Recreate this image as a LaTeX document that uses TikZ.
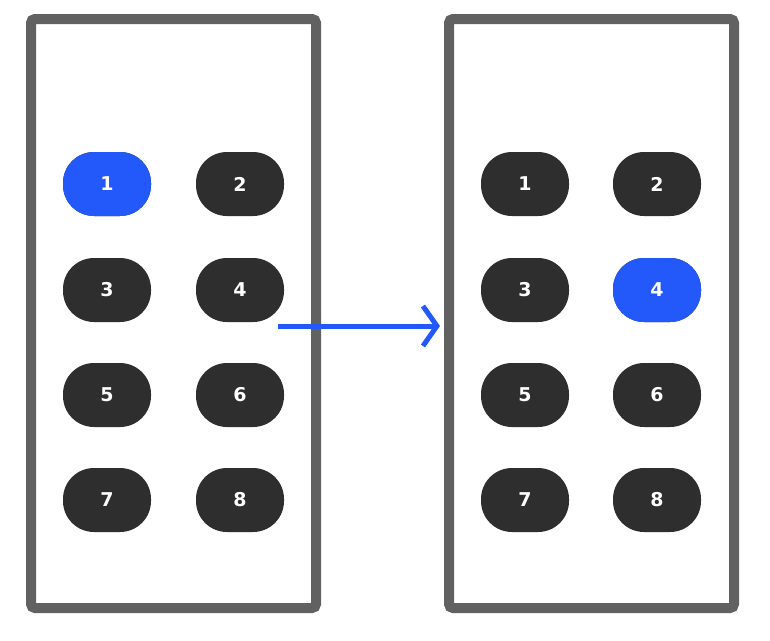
\documentclass[tikz,border=0pt]{standalone}
\usepackage{fontspec}
\setmainfont{DejaVu Sans}
\usetikzlibrary{arrows.meta}
\begin{document}
\begin{tikzpicture}[x=1pt,y=-1pt,
  frame/.style={draw=black!62,line width=10pt,rounded corners=4pt,fill=white},
  pill/.style={rounded rectangle-free/.style={},minimum width=88pt,minimum height=64pt,rounded corners=31pt,fill=black!82,text=white,font=\bfseries\fontsize{19}{19}\selectfont,inner sep=0pt},
  sel/.style={fill=blue!60!cyan!70!blue,fill={rgb,255:red,35;green,88;blue,250}},
  conn/.style={draw={rgb,255:red,35;green,88;blue,250},line width=5pt,-{Straight Barb[length=14pt,width=40pt,line join=miter]}}]
\useasboundingbox (0,0) rectangle (770,640);
\draw[frame] (31,19) rectangle (316,608);
\draw[frame] (449,19) rectangle (734,608);
\foreach \n/\x/\y in {1/107/184,2/240/184,3/107/290,4/240/290,5/107/395,6/240/395,7/107/500,8/240/500}
  \node[pill] (L\n) at (\x,\y) {\n};
\foreach \n/\x/\y in {1/525/184,2/657/184,3/525/290,4/657/290,5/525/395,6/657/395,7/525/500,8/657/500}
  \node[pill] (R\n) at (\x,\y) {\n};
\node[pill,sel] at (L1) {1};
\node[pill,sel] at (R4) {4};
\coordinate (a) at (278,326);
\coordinate (b) at (440,326);
\draw[conn] (a) -- (b);
\end{tikzpicture}
\end{document}
